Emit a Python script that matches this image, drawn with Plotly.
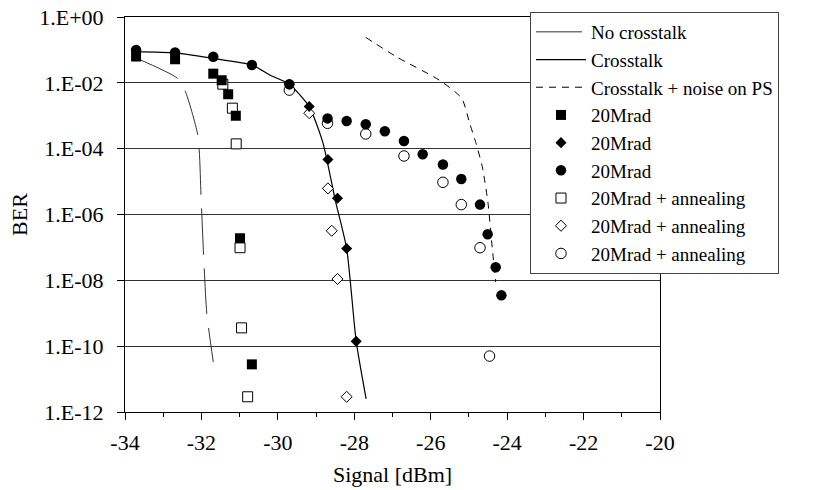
import plotly.graph_objects as go

# ---- data (Signal in dBm, BER) ----
nox_x = [-33.70, -32.64, -32.42, -32.09, -32.01, -31.94, -31.86, -31.69]
nox_y = [5.6e-2, 1.4e-2, 5.4e-3, 2.4e-4, 3.5e-6, 4.7e-8, 1.0e-9, 3.3e-11]

xt_x = [-33.71, -32.69, -31.69, -30.68, -30.20, -29.70, -29.18, -28.82, -28.50, -28.20, -27.95, -27.69]
xt_y = [8.9e-2, 8.1e-2, 5.5e-2, 3.5e-2, 1.7e-2, 9.1e-3, 1.9e-3, 1.5e-4, 2.8e-6, 9.3e-8, 1.4e-10, 2.5e-12]

xtn_x = [-27.70, -26.90, -25.77, -25.19, -24.98, -24.81, -24.65, -24.50, -24.41, -24.30]
xtn_y = [0.24, 6.2e-2, 1.2e-2, 3.4e-3, 5.9e-4, 1.4e-4, 2.8e-5, 2.2e-6, 1.7e-7, 8.9e-9]

sq_x = [-33.71, -32.69, -31.69, -31.47, -31.30, -31.10, -30.99, -30.68]
sq_y = [6.3e-2, 5.2e-2, 1.9e-2, 1.2e-2, 4.5e-3, 1.0e-3, 1.9e-7, 2.8e-11]

di_x = [-29.70, -29.18, -28.69, -28.44, -28.20, -27.95]
di_y = [9.1e-3, 1.9e-3, 4.7e-5, 3.1e-6, 9.3e-8, 1.4e-10]

ci_x = [-33.71, -32.69, -31.69, -30.68, -29.70, -28.70, -28.20, -27.70, -27.20, -26.70,
        -26.21, -25.68, -25.20, -24.71, -24.51, -24.30, -24.15]
ci_y = [1.0e-1, 8.3e-2, 6.2e-2, 3.5e-2, 9.1e-3, 8.3e-4, 6.9e-4, 5.5e-4, 3.4e-4, 1.7e-4,
        6.8e-5, 3.3e-5, 1.2e-5, 2.0e-6, 2.5e-7, 2.5e-8, 3.5e-9]

osq_x = [-31.44, -31.19, -31.09, -30.99, -30.95, -30.79]
osq_y = [9.1e-3, 1.7e-3, 1.4e-4, 9.8e-8, 3.6e-10, 2.9e-12]

odi_x = [-29.18, -28.69, -28.59, -28.44, -28.20]
odi_y = [1.2e-3, 6.2e-6, 3.2e-7, 1.1e-8, 2.9e-12]

oci_x = [-29.70, -28.70, -27.70, -26.70, -25.68, -25.20, -24.71, -24.46]
oci_y = [6.0e-3, 5.9e-4, 2.8e-4, 6.0e-5, 9.5e-6, 2.0e-6, 9.8e-8, 5.0e-11]

y_tickvals = [1e0, 1e-2, 1e-4, 1e-6, 1e-8, 1e-10, 1e-12]
y_ticktext = ["1.E+00", "1.E-02", "1.E-04", "1.E-06", "1.E-08", "1.E-10", "1.E-12"]
x_tickvals = [-34, -32, -30, -28, -26, -24, -22, -20]
x_ticktext = ["-34", "-32", "-30", "-28", "-26", "-24", "-22", "-20"]

FONT = "Liberation Serif, Times New Roman, serif"

fig = go.Figure()

# lines
fig.add_trace(go.Scatter(x=nox_x, y=nox_y, mode="lines", name="No crosstalk", legendrank=1,
                         line=dict(color="#333", width=1, dash="46px,14px", shape="spline", smoothing=0.6)))
fig.add_trace(go.Scatter(x=xt_x, y=xt_y, mode="lines", name="Crosstalk", legendrank=2,
                         line=dict(color="black", width=1.2, shape="spline", smoothing=0.6)))
fig.add_trace(go.Scatter(x=xtn_x, y=xtn_y, mode="lines", name="Crosstalk + noise on PS", legendrank=3,
                         line=dict(color="black", width=1, dash="7px,6px", shape="spline", smoothing=0.6)))

# open markers (drawn beneath filled)
open_line = dict(color="black", width=1)
fig.add_trace(go.Scatter(x=osq_x, y=osq_y, mode="markers", name="20Mrad + annealing", legendrank=7,
                         marker=dict(symbol="square", size=10, color="white", line=open_line)))
fig.add_trace(go.Scatter(x=odi_x, y=odi_y, mode="markers", name="20Mrad + annealing", legendrank=8,
                         marker=dict(symbol="diamond", size=8.5, color="white", line=open_line)))
fig.add_trace(go.Scatter(x=oci_x, y=oci_y, mode="markers", name="20Mrad + annealing", legendrank=9,
                         marker=dict(symbol="circle", size=10.5, color="white", line=open_line)))

# filled markers
fig.add_trace(go.Scatter(x=sq_x, y=sq_y, mode="markers", name="20Mrad", legendrank=4,
                         marker=dict(symbol="square", size=10, color="black")))
fig.add_trace(go.Scatter(x=di_x, y=di_y, mode="markers", name="20Mrad", legendrank=5,
                         marker=dict(symbol="diamond", size=8.5, color="black")))
fig.add_trace(go.Scatter(x=ci_x, y=ci_y, mode="markers", name="20Mrad", legendrank=6,
                         marker=dict(symbol="circle", size=10.5, color="black")))

fig.update_layout(
    width=816, height=490,
    margin=dict(l=125, r=156, t=17, b=78, autoexpand=False),
    paper_bgcolor="white", plot_bgcolor="white",
    font=dict(family=FONT, size=22, color="black"),
    showlegend=True,
    legend=dict(x=0.757, y=1.0127, xanchor="left", yanchor="top",
                bgcolor="white", bordercolor="#444", borderwidth=1,
                font=dict(family=FONT, size=19, color="black"),
                tracegroupgap=0, itemwidth=50, maxheight=400),
    xaxis=dict(range=[-34, -20], tickvals=x_tickvals, ticktext=x_ticktext, automargin=False,
               ticks="outside", ticklen=7, ticklabelstandoff=4,
               tickcolor="black", showline=True, linecolor="black", linewidth=1, mirror=True,
               showgrid=False, zeroline=False,
               minor=dict(dtick=1, ticks="outside", ticklen=4, tickcolor="black"),
               title=dict(text="Signal [dBm]", font=dict(size=22), standoff=12),
               tickfont=dict(size=22)),
    yaxis=dict(type="log", range=[-12, 0], tickvals=y_tickvals, ticktext=y_ticktext, automargin=False,
               ticks="outside", ticklen=7, tickcolor="black", ticklabelstandoff=9,
               showline=True, linecolor="black", linewidth=1, mirror=True,
               showgrid=True, gridcolor="#333", gridwidth=1, zeroline=False,
               title=dict(text="BER", font=dict(size=22), standoff=5),
               tickfont=dict(size=22)),
)

fig.write_html("out.html")
